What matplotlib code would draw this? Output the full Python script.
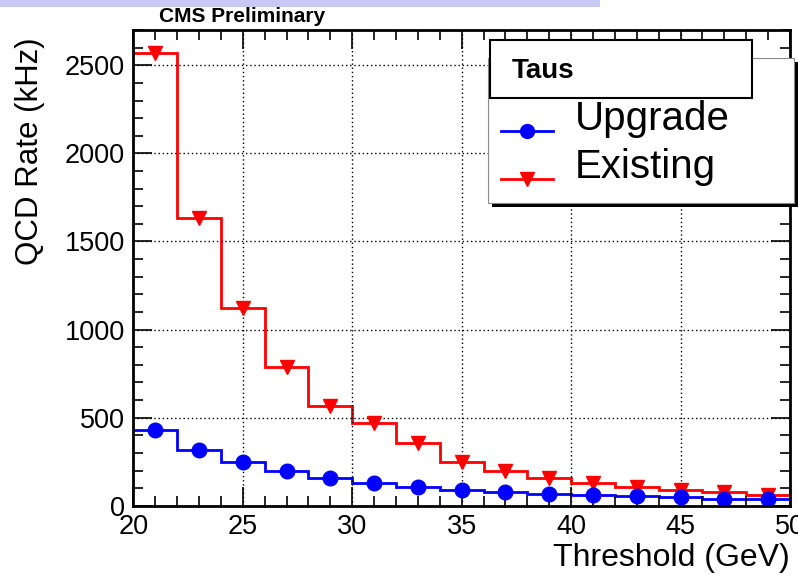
import numpy as np
import matplotlib.pyplot as plt
from matplotlib.patches import Rectangle
from matplotlib.lines import Line2D

plt.rcParams['font.family'] = ['Liberation Sans', 'DejaVu Sans']

# bin edges (GeV) and rates (kHz)
edges = [20, 22, 24, 26, 28, 30, 32, 34, 36, 38, 40, 42, 44, 46, 48, 50]
existing = [2568, 1634, 1124, 790, 565, 467, 357, 251, 198, 157, 130, 104, 92, 78, 62]
upgrade = [429, 316, 249, 198, 155, 129, 104, 89, 79, 68, 60, 53, 49, 41, 38]

centers = (np.array(edges[:-1]) + np.array(edges[1:])) / 2

fig = plt.figure(figsize=(7.98, 5.78), dpi=100)
ax = fig.add_axes([0.167, 0.125, 0.823, 0.823])

ax.stairs(existing, edges, color='red', lw=2, baseline=None)
ax.plot(centers, existing, 'v', color='red', ms=10.5, ls='none')
ax.stairs(upgrade, edges, color='blue', lw=2, baseline=None)
ax.plot(centers, upgrade, 'o', color='blue', ms=10.5, ls='none')

ax.set_xlim(20, 50)
ax.set_ylim(0, 2700)
ax.set_xticks([20, 25, 30, 35, 40, 45, 50])
ax.set_xticks(np.arange(20, 51, 1), minor=True)
ax.set_yticks([0, 500, 1000, 1500, 2000, 2500])
ax.set_yticks(np.arange(0, 2701, 100), minor=True)
ax.grid(True, which='major', ls=(0, (1, 2)), color='black', lw=1)
ax.tick_params(which='both', direction='in', top=True, right=True, labelsize=19.5, width=1.2)
ax.tick_params(which='major', length=14, pad=6)
ax.tick_params(which='minor', length=7)
for s in ax.spines.values():
    s.set_linewidth(2)

ax.set_xlabel('Threshold (GeV)', fontsize=23, loc='right', labelpad=2)
ax.set_ylabel('QCD Rate (kHz)', fontsize=22.5, loc='top')
ax.yaxis.set_label_coords(-0.135, 0.985)

fig.text(159 / 798, 1 - 22 / 578, 'CMS Preliminary', fontsize=15, fontweight='bold')

# slide band at top
fig.add_artist(Rectangle((0, 1 - 7 / 578), 600 / 798, 7 / 578, transform=fig.transFigure,
                         color='#c8c8f4', lw=0))

# legend box with shadow
def fr(x, y):
    return x / 798, 1 - y / 578

x0, y0 = fr(492, 207)
fig.add_artist(Rectangle((x0, y0), 306 / 798, 145 / 578, transform=fig.transFigure,
                         facecolor='black', lw=0, zorder=5))
x0, y0 = fr(488, 203)
fig.add_artist(Rectangle((x0, y0), 306 / 798, 145 / 578, transform=fig.transFigure,
                         facecolor='white', edgecolor='#888888', lw=0.8, zorder=6))
x0, y0 = fr(490, 98)
fig.add_artist(Rectangle((x0, y0), 262 / 798, 58 / 578, transform=fig.transFigure,
                         facecolor='white', edgecolor='black', lw=1.5, zorder=7))
tx, ty = fr(512, 71)
fig.text(tx, ty, 'Taus', fontsize=20, fontweight='bold', va='center', zorder=8)

for yy, col, mk, lab in [(131, 'blue', 'o', 'Upgrade'), (179, 'red', 'v', 'Existing')]:
    xa, ya = fr(501, yy)
    xb, _ = fr(553, yy)
    fig.add_artist(Line2D([xa, xb], [ya, ya], transform=fig.transFigure, color=col, lw=2, zorder=8))
    xm, _ = fr(527, yy)
    fig.add_artist(Line2D([xm], [ya], transform=fig.transFigure, color=col, marker=mk,
                          ms=10, ls='none', zorder=8))
    xt, _ = fr(575, yy)
    fig.text(xt, ya + 0.02, lab, fontsize=29, va='center', zorder=8)

fig.savefig('out.png', dpi=100)
